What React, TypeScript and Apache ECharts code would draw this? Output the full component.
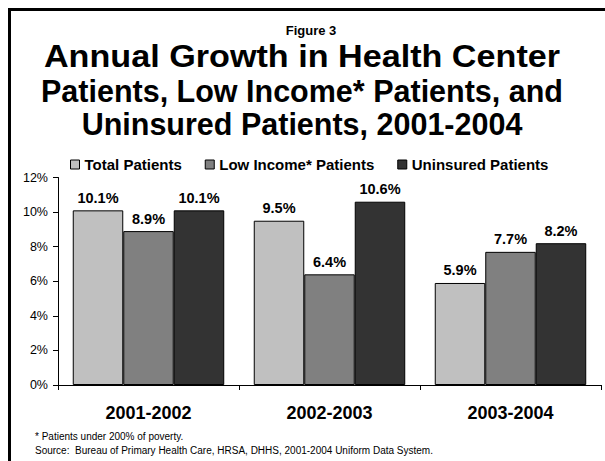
import React, { useEffect, useRef } from "react";
import * as echarts from "echarts";

const categories = ["2001-2002", "2002-2003", "2003-2004"];
const seriesNames = ["Total Patients", "Low Income* Patients", "Uninsured Patients"];
const totalPatients = [10.1, 9.5, 5.9];
const lowIncomePatients = [8.9, 6.4, 7.7];
const uninsuredPatients = [10.1, 10.6, 8.2];
const seriesColors = ["#c0c0c0", "#808080", "#333333"];
const yTicks = { min: 0, max: 12, interval: 2 };
const titleLines = [
  "Annual Growth in Health Center",
  "Patients, Low Income* Patients, and",
  "Uninsured Patients, 2001-2004",
];

const FONT = "'Liberation Sans', Arial, Helvetica, sans-serif";

export default function App() {
  const ref = useRef<HTMLDivElement>(null);
  useEffect(() => {
    if (!ref.current) return;
    const chart = echarts.init(ref.current, null, { renderer: "svg" });
    const values = [totalPatients, lowIncomePatients, uninsuredPatients];
    const titleYs = [57, 91, 124];
    const titleScaleX = [1.12, 1, 1];
    chart.setOption({
      animation: false,
      backgroundColor: "#fff",
      textStyle: { fontFamily: FONT },
      legend: {
        data: seriesNames,
        left: 65,
        top: 152,
        icon: "rect",
        itemWidth: 9,
        itemHeight: 9,
        itemGap: 23,
        itemStyle: { borderColor: "#000", borderWidth: 1 },
        textStyle: { fontFamily: FONT, fontSize: 15, fontWeight: "bold", color: "#000" },
      },
      grid: { left: 58, right: 4, top: 177.5, bottom: 76, containLabel: false },
      xAxis: {
        type: "category",
        data: categories,
        axisLine: { lineStyle: { color: "#000", width: 1 } },
        axisTick: { show: true, length: 5, lineStyle: { color: "#000" } },
        axisLabel: { fontFamily: FONT, fontSize: 18, fontWeight: "bold", color: "#000", margin: 19 },
      },
      yAxis: {
        type: "value",
        min: yTicks.min,
        max: yTicks.max,
        interval: yTicks.interval,
        axisLine: { show: true, lineStyle: { color: "#000", width: 1 } },
        axisTick: { show: true, length: 5, lineStyle: { color: "#000" } },
        splitLine: { show: false },
        axisLabel: { fontFamily: FONT, fontSize: 12.5, color: "#000", margin: 10, formatter: "{value}%" },
      },
      series: seriesNames.map((name, i) => ({
        name,
        type: "bar",
        data: values[i],
        barGap: "0%",
        barCategoryGap: "16.3%",
        itemStyle: { color: seriesColors[i], borderColor: "#000", borderWidth: 1 },
        label: {
          show: true,
          position: "top",
          distance: 5,
          formatter: "{c}%",
          fontFamily: FONT,
          fontSize: 14.5,
          fontWeight: "bold",
          color: "#000",
        },
      })),
      graphic: [
        {
          type: "rect",
          shape: { x: 9.5, y: 9.5, width: 800, height: 800 },
          style: { fill: "none", stroke: "#000", lineWidth: 3 },
          silent: true,
        },
        {
          type: "text",
          x: 311,
          y: 30,
          style: {
            text: "Figure 3",
            font: `bold 13px ${FONT}`,
            fill: "#000",
            textAlign: "center",
            textVerticalAlign: "middle",
          },
        },
        ...titleLines.map((t, i) => ({
          type: "text",
          x: 302,
          y: titleYs[i],
          scaleX: titleScaleX[i],
          style: {
            text: t,
            font: `bold 30.5px ${FONT}`,
            fill: "#000",
            textAlign: "center",
            textVerticalAlign: "middle",
          },
        })),
        {
          type: "text",
          left: 35,
          top: 431,
          style: { text: "* Patients under 200% of poverty.", font: `10px ${FONT}`, fill: "#000" },
        },
        {
          type: "text",
          left: 35,
          top: 445,
          style: {
            text: "Source:  Bureau of Primary Health Care, HRSA, DHHS, 2001-2004 Uniform Data System.",
            font: `10px ${FONT}`,
            fill: "#000",
          },
        },
      ],
    });
    return () => chart.dispose();
  }, []);
  return (
    <div
      ref={ref}
      style={{ position: "fixed", left: 0, top: 0, width: 605, height: 461 }}
    />
  );
}
